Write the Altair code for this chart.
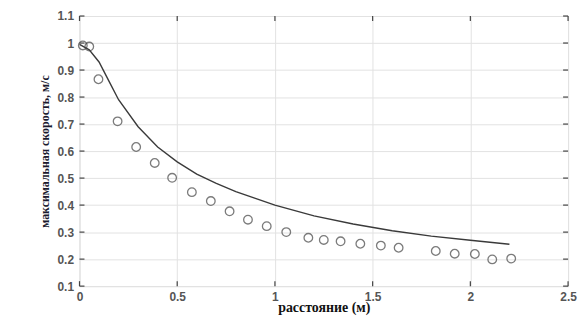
import altair as alt
import pandas as pd

# measured points (circles)
pts_x = [0.017, 0.05, 0.097, 0.195, 0.29, 0.385, 0.474, 0.575, 0.672, 0.768, 0.862,
         0.958, 1.058, 1.171, 1.25, 1.336, 1.437, 1.542, 1.633, 1.823, 1.92, 2.023,
         2.112, 2.209]
pts_y = [0.991, 0.987, 0.866, 0.71, 0.615, 0.556, 0.501, 0.448, 0.415, 0.377, 0.346,
         0.322, 0.30, 0.279, 0.271, 0.266, 0.257, 0.250, 0.242, 0.230, 0.22, 0.219,
         0.199, 0.202]

# model curve
line_x = [0.0, 0.05, 0.1, 0.15, 0.2, 0.3, 0.4, 0.5, 0.6, 0.7, 0.8, 0.9, 1.0, 1.2,
          1.4, 1.6, 1.8, 2.0, 2.2]
line_y = [0.995, 0.975, 0.93, 0.86, 0.79, 0.69, 0.615, 0.56, 0.515, 0.48, 0.45,
          0.425, 0.40, 0.36, 0.33, 0.305, 0.285, 0.27, 0.255]

x_ticks = [0, 0.5, 1, 1.5, 2, 2.5]
y_ticks = [0.1, 0.2, 0.3, 0.4, 0.5, 0.6, 0.7, 0.8, 0.9, 1.0, 1.1]

pts = pd.DataFrame({"x": pts_x, "y": pts_y})
ln = pd.DataFrame({"x": line_x, "y": line_y})
xt = pd.DataFrame({"x": x_ticks})
yt = pd.DataFrame({"y": y_ticks})

W, H = 492, 272

xs = alt.Scale(domain=[0, 2.5], nice=False, zero=False)
ys = alt.Scale(domain=[0.1, 1.1], nice=False, zero=False)

xaxis = alt.Axis(values=x_ticks, format="~g", title="расстояние (м)", grid=True,
                 gridColor="#e2e2e2", domain=False, ticks=False, labelPadding=5,
                 labelFontSize=12, labelColor="#555555", labelFont="Liberation Sans",
                 labelFontWeight="bold", titleFont="Liberation Serif", titleFontSize=14,
                 titleFontWeight="bold", titleColor="#111111", titleY=26,
                 titleBaseline="alphabetic", labelFlush=False, labelOverlap=False)
yaxis = alt.Axis(values=y_ticks, format="~g", title="максимальная скорость, м/с",
                 grid=True, gridColor="#e2e2e2", domain=False, ticks=False,
                 labelPadding=6, labelFontSize=12, labelColor="#555555",
                 labelFont="Liberation Sans", labelFontWeight="bold",
                 titleFont="Liberation Serif", titleFontSize=12, titleFontWeight="bold",
                 titleColor="#1a1a2e", titlePadding=6, labelFlush=False,
                 labelOverlap=False)

line = alt.Chart(ln).mark_line(color="#3a3a3a", strokeWidth=1.4).encode(
    x=alt.X("x:Q", scale=xs, axis=xaxis),
    y=alt.Y("y:Q", scale=ys, axis=yaxis),
)
circ = alt.Chart(pts).mark_point(shape="circle", filled=False, color="#444444",
                                 size=75, strokeWidth=1.3).encode(
    x=alt.X("x:Q", scale=xs, axis=xaxis),
    y=alt.Y("y:Q", scale=ys, axis=yaxis),
)

tick_style = dict(color="#444444", strokeWidth=1.2)
yl = alt.Chart(yt).mark_rule(**tick_style).encode(
    y=alt.Y("y:Q", scale=ys, axis=yaxis), x=alt.value(0), x2=alt.value(5))
yr = alt.Chart(yt).mark_rule(**tick_style).encode(
    y=alt.Y("y:Q", scale=ys, axis=yaxis), x=alt.value(W - 5), x2=alt.value(W))
xb = alt.Chart(xt).mark_rule(**tick_style).encode(
    x=alt.X("x:Q", scale=xs, axis=xaxis), y=alt.value(H), y2=alt.value(H - 5))
xtp = alt.Chart(xt).mark_rule(**tick_style).encode(
    x=alt.X("x:Q", scale=xs, axis=xaxis), y=alt.value(0), y2=alt.value(5))

chart = alt.layer(line, circ, yl, yr, xb, xtp).properties(
    width=W, height=H,
    autosize=alt.AutoSizeParams(type="none"),
    padding={"left": 72, "top": 7, "right": 10, "bottom": 29},
).configure_view(stroke="#444444", strokeWidth=1.5).configure(background="white")

chart.save("out.html", embed_options={"renderer": "svg", "actions": False})
